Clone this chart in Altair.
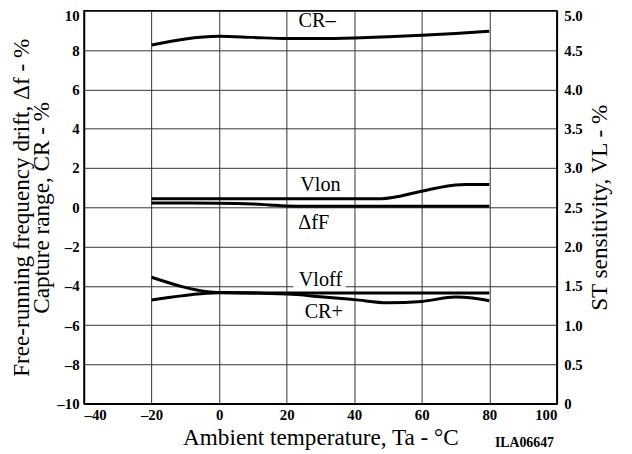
import altair as alt
import pandas as pd

# ---- data ----
# Left axis series (%), x = ambient temperature (°C)
temps_cr_minus = [-20, 0, 10, 20, 30, 40, 50, 60, 70, 80]
cr_minus = [8.26, 8.71, 8.65, 8.59, 8.59, 8.62, 8.68, 8.76, 8.85, 8.96]

temps_df = [-20, 0, 10, 15, 20, 25, 40, 60, 80]
df_vals = [0.22, 0.21, 0.17, 0.12, 0.07, 0.05, 0.05, 0.05, 0.05]

temps_cr_plus = [-20, -2, 0, 20, 30, 40, 50, 60, 70, 75, 80]
cr_plus = [-4.72, -4.36, -4.35, -4.42, -4.55, -4.70, -4.86, -4.79, -4.57, -4.62, -4.76]

# Right axis series (VL %)
temps_vlon = [-20, 0, 20, 40, 48, 60, 70, 73, 80]
vlon = [2.61, 2.61, 2.61, 2.61, 2.61, 2.705, 2.785, 2.79, 2.79]

temps_vloff = [-20, -2, 0, 20, 40, 60, 80]
vloff = [1.61, 1.42, 1.415, 1.41, 1.41, 1.41, 1.41]

# Curve labels (left-axis units)
label_text = ["CR–", "Vlon", "ΔfF", "Vloff", "CR+"]
label_x = [29, 30, 28, 30, 31]
label_y = [9.5, 1.15, -0.8, -3.68, -5.35]

# white box behind the "Vloff" label
box_x = [22.0]
box_x2 = [37.5]
box_y = [-3.15]
box_y2 = [-4.15]

# figure code
code_text = ["ILA06647"]
code_x = [90.4]
code_y = [-12.0]

x_ticks = list(range(-40, 101, 20))
y_ticks = list(range(-10, 11, 2))
r_ticks = [i * 0.5 for i in range(11)]

FONT = "Liberation Serif"

def long(name, xs, ys):
    return pd.DataFrame({"series": name, "t": xs, "v": ys})

left_df = pd.concat([
    long("CR-", temps_cr_minus, cr_minus),
    long("dfF", temps_df, df_vals),
    long("CR+", temps_cr_plus, cr_plus),
])
right_df = pd.concat([
    long("Vlon", temps_vlon, vlon),
    long("Vloff", temps_vloff, vloff),
])
labels_df = pd.DataFrame({"text": label_text, "t": label_x, "v": label_y})
box_df = pd.DataFrame({"t": box_x, "t2": box_x2, "v": box_y, "v2": box_y2})
code_df = pd.DataFrame({"text": code_text, "t": code_x, "v": code_y})

x_scale = alt.Scale(domain=[-40, 100], nice=False, zero=False)
yl_scale = alt.Scale(domain=[-10, 10], nice=False, zero=False)
yr_scale = alt.Scale(domain=[0, 5], nice=False, zero=False)

common_axis = dict(
    labelFont=FONT, labelFontWeight="bold", labelFontSize=15, labelColor="black",
    titleFont=FONT, titleFontWeight="normal", titleFontSize=23.5, titleColor="black",
    domainColor="black", domainWidth=1.5, ticks=False,
)

x_axis = alt.Axis(
    values=x_ticks, grid=True, gridColor="#333333", gridWidth=1,
    labelPadding=4, title="Ambient temperature, Ta - °C", titlePadding=3,
    labelExpr="datum.value < 0 ? '–' + abs(datum.value) : datum.label",
    **common_axis,
)
yl_axis = alt.Axis(
    orient="left", values=y_ticks, grid=True, gridColor="#333333", gridWidth=1,
    labelPadding=5,
    labelOffset={"condition": {"test": "datum.value == 10", "value": 5}, "value": 0},
    title=["Free-running frequency drift,  Δf - %", "Capture range, CR - %"],
    titlePadding=3, titleLineHeight=21,
    labelExpr="datum.value < 0 ? '–' + abs(datum.value) : datum.label",
    **common_axis,
)
yr_axis = alt.Axis(
    orient="right", values=r_ticks, grid=False, labelPadding=7,
    labelOffset={"condition": {"test": "datum.value == 5", "value": 5}, "value": 0},
    title="ST sensitivity, VL - %", titleAngle=270, titleBaseline="top",
    titlePadding=6,
    labelExpr="datum.value == 0 ? '0' : format(datum.value, '.1f')",
    **common_axis,
)

x_enc = alt.X("t:Q", scale=x_scale, axis=x_axis)

box = alt.Chart(box_df).mark_rect(color="white").encode(
    x=alt.X("t:Q", scale=x_scale, axis=x_axis), x2="t2:Q",
    y=alt.Y("v:Q", scale=yl_scale, axis=yl_axis), y2="v2:Q",
)
left_lines = alt.Chart(left_df).mark_line(
    color="black", strokeWidth=3, interpolate="monotone"
).encode(
    x=x_enc,
    y=alt.Y("v:Q", scale=yl_scale, axis=yl_axis),
    detail="series:N",
)
labels = alt.Chart(labels_df).mark_text(
    font=FONT, fontSize=20.5, color="black", align="center", baseline="middle"
).encode(
    x=x_enc, y=alt.Y("v:Q", scale=yl_scale, axis=yl_axis), text="text:N"
)
code = alt.Chart(code_df).mark_text(
    font=FONT, fontSize=14, fontWeight="bold", color="black",
    align="center", baseline="middle"
).encode(
    x=x_enc, y=alt.Y("v:Q", scale=yl_scale, axis=yl_axis), text="text:N"
)

left_layer = alt.layer(box, left_lines, labels, code)

right_lines = alt.Chart(right_df).mark_line(
    color="black", strokeWidth=3, interpolate="monotone"
).encode(
    x=x_enc,
    y=alt.Y("v:Q", scale=yr_scale, axis=yr_axis),
    detail="series:N",
)

chart = alt.layer(left_layer, right_lines).resolve_scale(
    y="independent"
).properties(
    width=479, height=398,
    autosize=alt.AutoSizeParams(type="none"),
    padding={"left": 77, "top": 0, "right": 68, "bottom": 48},
    background="white",
).configure_view(stroke="black", strokeWidth=1.5)

chart.save("out.html", embed_options={"renderer": "svg", "actions": False})
